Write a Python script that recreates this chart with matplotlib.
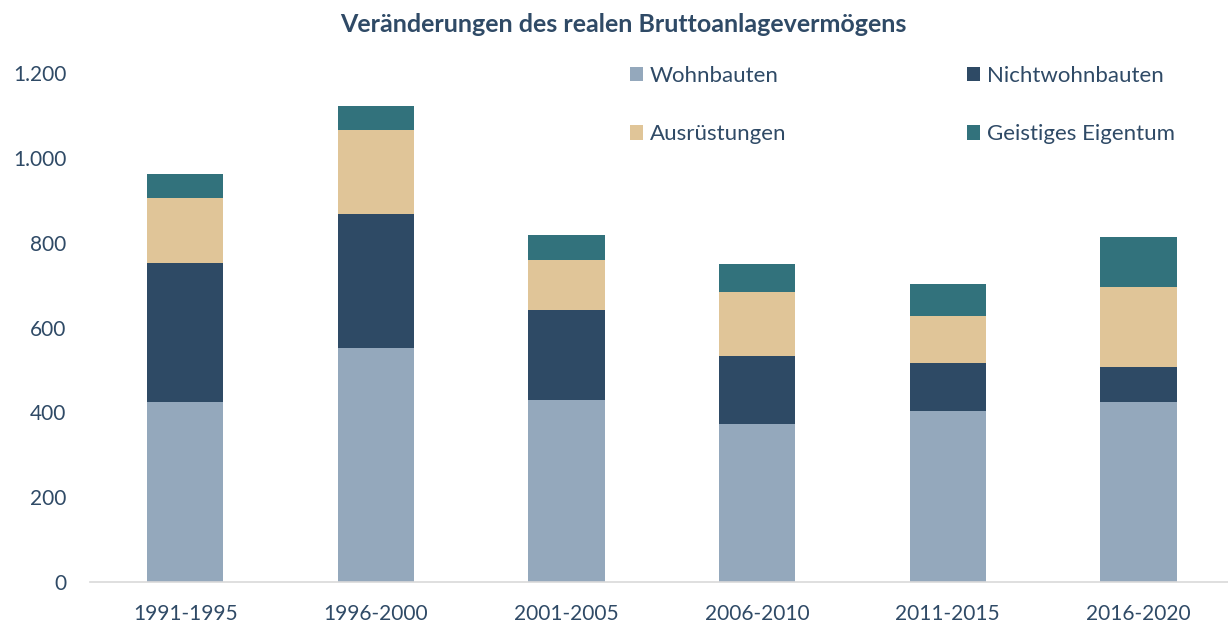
import matplotlib
matplotlib.use("Agg")
import matplotlib.pyplot as plt
import numpy as np

categories = ["1991-1995", "1996-2000", "2001-2005", "2006-2010", "2011-2015", "2016-2020"]
wohnbauten = [424, 552, 430, 372, 403, 424]
nichtwohnbauten = [329, 316, 211, 161, 113, 84]
ausruestungen = [152, 197, 117, 151, 110, 188]
geistiges_eigentum = [57, 58, 60, 66, 76, 118]
series_names = ["Wohnbauten", "Nichtwohnbauten", "Ausrüstungen", "Geistiges Eigentum"]
colors = ["#94A8BC", "#2E4A65", "#E0C598", "#32727C"]
yticks = [0, 200, 400, 600, 800, 1000, 1200]
ytick_labels = ["0", "200", "400", "600", "800", "1.000", "1.200"]

text_color = "#2F4A66"
plt.rcParams['font.family'] = ['Lato', 'DejaVu Sans']

fig = plt.figure(figsize=(12.28, 6.25), dpi=100)
ax = fig.add_axes([90/1228, 1-582/625, 1-90/1228, (582-73)/625])

x = np.arange(len(categories))
bottom = np.zeros(len(categories))
handles = []
for vals, name, c in zip([wohnbauten, nichtwohnbauten, ausruestungen, geistiges_eigentum], series_names, colors):
    b = ax.bar(x, vals, width=0.4, bottom=bottom, color=c, label=name, edgecolor='none')
    handles.append(b)
    bottom += np.array(vals)

ax.set_xlim(-0.5, 5.47)
ax.set_ylim(0, 1200)
ax.set_yticks(yticks)
ax.set_yticklabels(ytick_labels)
ax.set_xticks(x)
ax.set_xticklabels(categories)
ax.tick_params(axis='both', length=0, colors=text_color, labelsize=15)
ax.tick_params(axis='x', pad=16)
ax.tick_params(axis='y', pad=17)
for s in ['top', 'right', 'left']:
    ax.spines[s].set_visible(False)
ax.spines['bottom'].set_color('#D9D9D9')
ax.spines['bottom'].set_linewidth(1.2)

fig.text(623/1228, 1-24/625, "Veränderungen des realen Bruttoanlagevermögens",
         ha='center', va='center', fontsize=18, fontweight='bold', color=text_color)

order = [0, 2, 1, 3]
leg = ax.legend(handles=[handles[i] for i in order], labels=[series_names[i] for i in order],
                ncol=2, loc='upper left',
                bbox_to_anchor=(619/1228, 1-55/625), bbox_transform=fig.transFigure,
                frameon=False, fontsize=16, handlelength=0.6, handleheight=0.6,
                handletextpad=0.3, columnspacing=8.1, labelspacing=1.72, borderpad=0)
for t in leg.get_texts():
    t.set_color(text_color)

fig.savefig("out.png", dpi=100)
